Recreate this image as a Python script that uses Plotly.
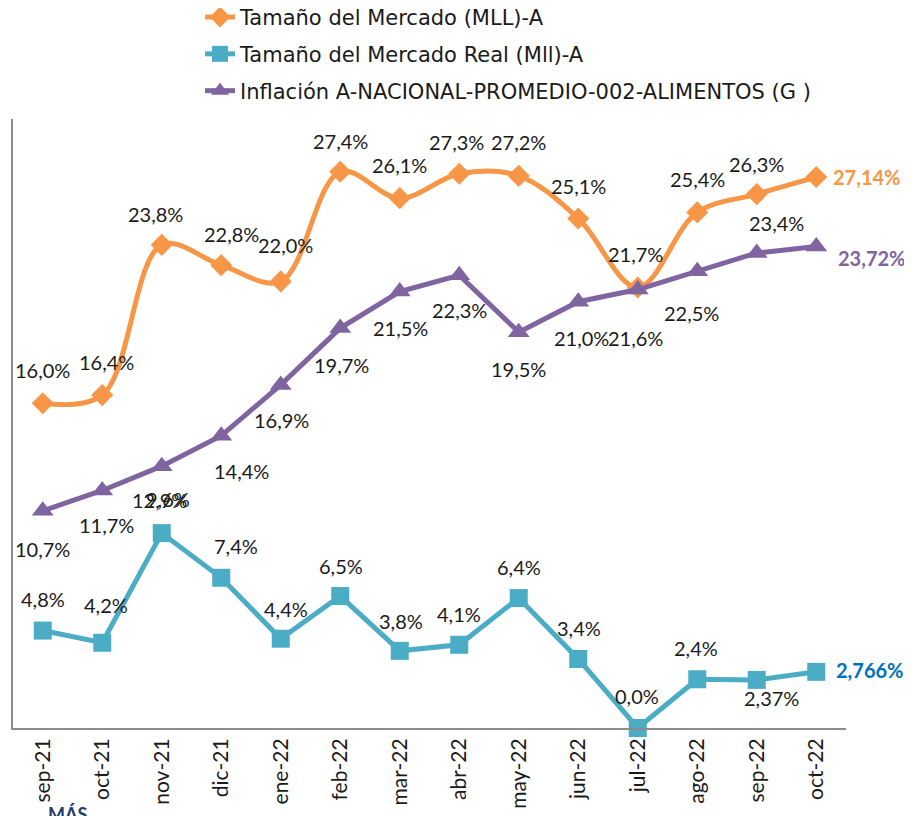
import plotly.graph_objects as go

months = ["sep-21", "oct-21", "nov-21", "dic-21", "ene-22", "feb-22", "mar-22",
          "abr-22", "may-22", "jun-22", "jul-22", "ago-22", "sep-22", "oct-22"]
mercado = [16.0, 16.4, 23.8, 22.8, 22.0, 27.4, 26.1, 27.3, 27.2, 25.1, 21.7, 25.4, 26.3, 27.14]
real = [4.8, 4.2, 9.6, 7.4, 4.4, 6.5, 3.8, 4.1, 6.4, 3.4, 0.0, 2.4, 2.37, 2.766]
inflacion = [10.7, 11.7, 12.9, 14.4, 16.9, 19.7, 21.5, 22.3, 19.5, 21.0, 21.6, 22.5, 23.4, 23.72]

dec_mercado = [1] * 13 + [2]
dec_real = [1] * 12 + [2, 3]
dec_inflacion = [1] * 13 + [2]

names = ["Tamaño del Mercado (MLL)-A", "Tamaño del Mercado Real (Mll)-A",
         "Inflación A-NACIONAL-PROMEDIO-002-ALIMENTOS (G )"]

ORANGE = "#F79646"
TEAL = "#4BACC6"
PURPLE = "#8064A2"
BLUE = "#0070C0"
FONT = "Lato"
LEG_FONT = "DejaVu Sans"

# label offsets (pixels) for each point
off_mercado = [(0, 33), (4, 33), (-6, 31), (10, 31), (5, 36), (0, 31), (0, 33),
               (-3, 32), (0, 34), (0, 32), (-2, 33), (0, 33), (0, 30), (15, 0)]
off_infl = [(0, -38), (4, -35), (-2, -34), (20, -35), (1, -35), (1, -37), (1, -36),
            (0, -35), (0, -37), (3, -36), (-2, -48), (-6, -42), (20, 30), (20, -12)]
off_real = [(0, 32), (4, 38), (6, 34), (15, 32), (5, 30), (1, 30), (1, 30),
            (0, 31), (0, 31), (1, 31), (-1, 32), (-1, 31), (15, -18), (18, 2)]


def fmt(v, d):
    return f"{v:.{d}f}".replace(".", ",") + "%"


fig = go.Figure()
fig.add_trace(go.Scatter(
    x=months, y=mercado, name=names[0], mode="lines+markers",
    line=dict(color=ORANGE, width=5, shape="spline", smoothing=1.0),
    marker=dict(symbol="diamond", size=17, color=ORANGE),
    cliponaxis=False, legendgroup="a"))
fig.add_trace(go.Scatter(
    x=months, y=real, name=names[1], mode="lines+markers",
    line=dict(color=TEAL, width=5),
    marker=dict(symbol="square", size=18, color=TEAL),
    cliponaxis=False, legendgroup="b"))
fig.add_trace(go.Scatter(
    x=months, y=inflacion, name=names[2], mode="lines+markers",
    line=dict(color=PURPLE, width=5),
    marker=dict(symbol="triangle-up", size=19, color=PURPLE),
    cliponaxis=False, legendgroup="c"))

annotations = []


def add_labels(vals, decs, offs, last_color):
    n = len(vals)
    for i, (v, d, (dx, dy)) in enumerate(zip(vals, decs, offs)):
        last = i == n - 1
        annotations.append(dict(
            x=months[i], y=v, text=(f"<b>{fmt(v, d)}</b>" if last else fmt(v, d)),
            showarrow=False, xshift=dx, yshift=dy,
            xanchor="left" if last else "center",
            font=dict(family=FONT, size=20, color=last_color if last else "#1a1a1a")))


add_labels(mercado, dec_mercado, off_mercado, ORANGE)
add_labels(inflacion, dec_inflacion, off_infl, PURPLE)
add_labels(real, dec_real, off_real, BLUE)

annotations.append(dict(
    xref="paper", yref="paper", x=0.04, y=-0.12, yanchor="top", xanchor="left",
    text="<b>MÁS</b>", showarrow=False,
    font=dict(family=FONT, size=18, color="#1F3B6E")))

fig.update_layout(
    width=912, height=816,
    paper_bgcolor="white", plot_bgcolor="white",
    margin=dict(l=5, r=74, t=111, b=96, autoexpand=False),
    showlegend=True,
    legend=dict(orientation="v", x=0.2245, y=1.2005, xanchor="left", yanchor="top",
                font=dict(family=LEG_FONT, size=21, color="#1a1a1a"),
                tracegroupgap=6.5, itemwidth=30, bgcolor="rgba(0,0,0,0)"),
    annotations=annotations,
    font=dict(family=FONT),
)
fig.update_xaxes(
    type="category", range=[-0.5, 13.5], showline=True, linecolor="#8c8c8c",
    linewidth=2, ticks="", tickangle=-90, showgrid=False,
    tickfont=dict(family=FONT, size=21, color="#1a1a1a"))
fig.update_yaxes(
    range=[0, 30], showline=True, linecolor="#8c8c8c", linewidth=2,
    showticklabels=False, ticks="", showgrid=False, zeroline=False)

fig.write_html("out.html")
